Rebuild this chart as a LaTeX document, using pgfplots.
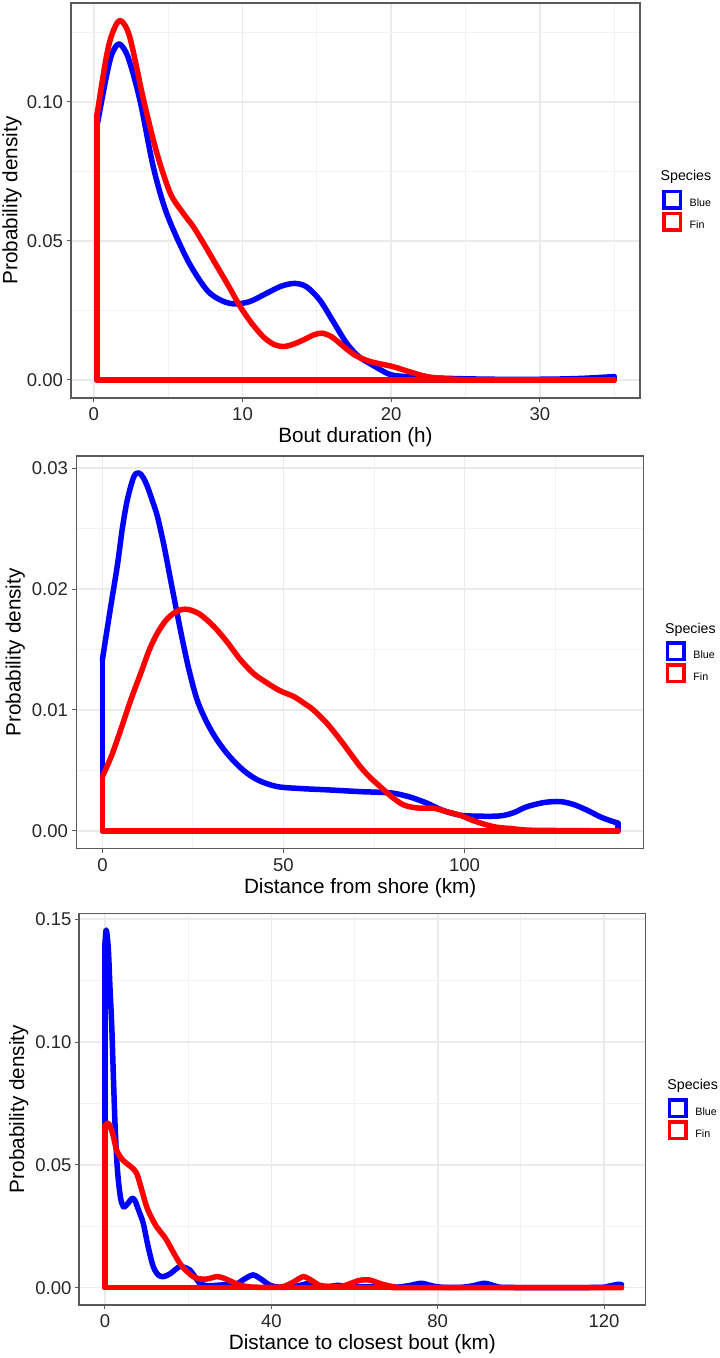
\documentclass[border=0pt]{standalone}
\usepackage{fontspec}
\setmainfont{Liberation Sans}
\usepackage{pgfplots}
\pgfplotsset{compat=1.18}
\definecolor{gridmaj}{RGB}{235,235,235}
\definecolor{gridmin}{RGB}{242,242,242}
\definecolor{frame}{RGB}{90,90,90}
\tikzset{
  dens/.style={line width=5.5pt, line join=round, line cap=round},
  spec/.style={anchor=base west, inner sep=0pt, font=\fontsize{14.2}{16}\selectfont},
}
\pgfplotsset{
  ggpanel/.style={
    scale only axis, anchor=south west, grid=both, clip mode=individual,
    scaled ticks=false,
    tick align=outside, xtick pos=left, ytick pos=left,
    major tick length=4.3pt, minor tick length=0pt,
    tick style={frame, line width=1pt},
    axis line style={frame, line width=1.1pt},
    major grid style={gridmaj, line width=1.6pt},
    minor grid style={gridmin, line width=0.9pt},
    tick label style={font=\fontsize{18.5}{20}\selectfont, text=black!85},
    label style={font=\fontsize{20.7}{24}\selectfont},
    xticklabel style={anchor=base, yshift=-18.5pt},
    xlabel style={at={(axis description cs:0.5,0)}, anchor=base, yshift=-44.7pt},
    ylabel={Probability density},
    legend cell align=left,
    legend style={at={(1,0.5)}, anchor=north west, xshift=22pt, yshift=11pt,
      draw=none, fill=none, inner sep=0pt, outer sep=0pt, row sep=2pt, column sep=7.7pt,
      font=\fontsize{10.7}{12}\selectfont, nodes={inner sep=0pt}},
    legend image code/.code={
      \path[draw=none, fill=none] (3.57pt,-2.13pt) rectangle (16.43pt,10.73pt);
      \draw[line width=3.5pt, line join=miter, line cap=butt, fill=white] (1.75pt,-3.95pt) rectangle (18.25pt,12.55pt);},
  },
}
\begin{document}
\begin{tikzpicture}
\path[use as bounding box] (0,0) rectangle (720pt,-1358pt);
% ---------------- Panel 1 ----------------
\begin{axis}[ggpanel,
  at={(71pt,-398pt)}, width=569pt, height=395pt,
  xmin=-1.54, xmax=36.74, ymin=-0.0065, ymax=0.1355,
  xtick={0,10,20,30}, xticklabels={0,10,20,30},
  minor xtick={5,15,25,35},
  ytick={0,0.05,0.10}, yticklabels={0.00,0.05,0.10},
  minor ytick={0.025,0.075,0.125},
  yticklabel style={anchor=east, xshift=-0.2pt},
  ylabel style={at={(axis description cs:-0.0942,0.5)}, anchor=base},
  xlabel={Bout duration (h)},
]
\addplot[blue, dens, smooth] coordinates {
(0.2,0.091) (0.8,0.108) (1.2,0.117) (1.7,0.1208) (2.3,0.116) (3.1,0.1005) (4.0,0.0765) (4.9,0.0598) (6.3,0.0431) (7.6,0.0323) (8.6,0.0285) (9.5,0.0273) (10.5,0.0282) (11.6,0.0311) (12.6,0.0337) (13.5,0.0347) (14.3,0.0335) (15.2,0.0287) (16.1,0.0210) (17.0,0.0132) (17.8,0.0085) (18.6,0.0058) (19.9,0.0020) (21,0.0012) (22.4,0.0008) (25,0.0004) (28,0.0002) (31,0.0003) (33,0.0006) (35,0.0012)};
\addlegendentry{Blue}
\addplot[blue, dens, forget plot] coordinates {(0.2,0.091) (0.2,0) (35,0) (35,0.0012)};
\addplot[red, dens, smooth] coordinates {
(0.2,0.095) (0.8,0.115) (1.2,0.124) (1.75,0.1292) (2.4,0.1235) (3.35,0.1005) (4.25,0.0813) (5.15,0.0670) (6.0,0.0600) (6.7,0.0550) (7.5,0.0480) (8.3,0.0407) (9.1,0.0334) (9.85,0.0263) (10.6,0.0205) (11.4,0.0155) (12.1,0.0128) (12.75,0.0120) (13.4,0.0128) (14.1,0.0144) (14.8,0.0162) (15.35,0.0168) (16.0,0.0155) (16.8,0.0120) (17.6,0.0088) (18.6,0.0066) (20.1,0.0048) (21.2,0.0030) (22.4,0.0012) (24,0.0003) (26,0) (35,0)};
\addlegendentry{Fin}
\addplot[red, dens, forget plot] coordinates {(0.2,0.095) (0.2,0) (35,0)};
\node[spec, xshift=20.5pt, yshift=19.8pt] at (rel axis cs:1,0.5) {Species};
\end{axis}
% ---------------- Panel 2 ----------------
\begin{axis}[ggpanel,
  at={(76.7pt,-848.7pt)}, width=567pt, height=392.7pt,
  xmin=-7.1, xmax=149.5, ymin=-0.00147, ymax=0.031,
  xtick={0,50,100}, xticklabels={0,50,100},
  minor xtick={25,75,125},
  ytick={0,0.01,0.02,0.03}, yticklabels={0.00,0.01,0.02,0.03},
  minor ytick={0.005,0.015,0.025},
  yticklabel style={anchor=east, xshift=-0.9pt},
  ylabel style={at={(axis description cs:-0.0988,0.5)}, anchor=base},
  xlabel={Distance from shore (km)},
]
\addplot[blue, dens, smooth] coordinates {
(0,0.01416) (2,0.0180) (4.1,0.0219) (5.5,0.0250) (6.9,0.0274) (8.7,0.0293) (10.1,0.0296) (11.3,0.0292) (12.4,0.0285) (13.8,0.0273) (15.2,0.0260) (17,0.0236) (18.8,0.0208) (20.5,0.0182) (22.1,0.0158) (24,0.0132) (26.2,0.0108) (28.8,0.0090) (31.7,0.0075) (35,0.0062) (39,0.0050) (43,0.0042) (48.2,0.00367) (55,0.0035) (62,0.0034) (71.2,0.00325) (76,0.0032) (80.4,0.00312) (85,0.0028) (89.6,0.0023) (94,0.0017) (98.8,0.0013) (104,0.00122) (109.8,0.00124) (113.5,0.0015) (117.2,0.0020) (122,0.00235) (126.4,0.00243) (130,0.0022) (133.7,0.00174) (138,0.0011) (142.4,0.00064)};
\addlegendentry{Blue}
\addplot[blue, dens, forget plot] coordinates {(0,0.01416) (0,0) (142.4,0) (142.4,0.00064)};
\addplot[red, dens, smooth] coordinates {
(0,0.0045) (2.5,0.0062) (5.05,0.00836) (7.8,0.0108) (10.6,0.01305) (13,0.0150) (15.2,0.01637) (17.5,0.0174) (19.7,0.0180) (21.8,0.0183) (23.9,0.0183) (27,0.0179) (30.8,0.0169) (34.5,0.0156) (38.1,0.01416) (41.8,0.0130) (45.5,0.01223) (49,0.0116) (52.8,0.01112) (55.5,0.0106) (58.3,0.0100) (62,0.0089) (65.7,0.00753) (68.5,0.0064) (71.2,0.00532) (74,0.0044) (76.7,0.00367) (80,0.0028) (83.2,0.00215) (87,0.0019) (91.4,0.00188) (95,0.0016) (98.8,0.0013) (102,0.0009) (106.1,0.0005) (109,0.0003) (112.6,0.0002) (116,0.0001) (120,0.00005) (142.4,0)};
\addlegendentry{Fin}
\addplot[red, dens, forget plot] coordinates {(0,0.0045) (0,0) (142.4,0)};
\node[spec, xshift=21.3pt, yshift=19pt] at (rel axis cs:1,0.5) {Species};
\end{axis}
% ---------------- Panel 3 ----------------
\begin{axis}[ggpanel,
  at={(79pt,-1305pt)}, width=566.7pt, height=391.7pt,
  xmin=-6.25, xmax=130, ymin=-0.00705, ymax=0.1524,
  xtick={0,40,80,120}, xticklabels={0,40,80,120},
  minor xtick={20,60,100},
  ytick={0,0.05,0.10,0.15}, yticklabels={0.00,0.05,0.10,0.15},
  minor ytick={0.025,0.075,0.125},
  yticklabel style={anchor=east, xshift=0.2pt},
  ylabel style={at={(axis description cs:-0.0970,0.5)}, anchor=base},
  xlabel={Distance to closest bout (km)},
]
\addplot[blue, dens, smooth] coordinates {
(0,0.140) (0.3,0.1456) (0.8,0.138) (1.2,0.122) (1.6,0.1076) (2.0,0.087) (2.4,0.067) (2.8,0.053) (3.2,0.0439) (3.8,0.036) (4.4,0.0330) (4.8,0.0330) (5.6,0.0345) (6.5,0.0364) (7.2,0.0355) (8.2,0.031) (9.2,0.0262) (10.4,0.0165) (11.6,0.0086) (12.8,0.0052) (14.0,0.0045) (15.5,0.0055) (17,0.0075) (18,0.0086) (19.2,0.0082) (20.4,0.0072) (21.6,0.0045) (22.8,0.0018) (24.5,0.0008) (27,0.0010) (29,0.0012) (31.6,0.0015) (33.5,0.0035) (35.6,0.0052) (37.5,0.0035) (39.7,0.0010) (42,0.0002) (45,0.0003) (47.5,0.0012) (49.3,0.0018) (51.5,0.0008) (54,0.0005) (56,0.0010) (58,0.0005) (62,0.0003) (66,0.0003) (70,0.0002) (73,0.0008) (76.1,0.0018) (79,0.0006) (82,0.0001) (86,0.0002) (88.5,0.0008) (91.3,0.0018) (94,0.0006) (97,0.0001) (118,0.0001) (121,0.0006) (123.4,0.0014) (124.2,0.0012)};
\addlegendentry{Blue}
\addplot[blue, dens, forget plot] coordinates {(0,0.140) (0,0) (124.2,0) (124.2,0.0012)};
\addplot[red, dens, smooth] coordinates {
(0,0.066) (0.8,0.0669) (1.8,0.063) (2.8,0.056) (4.0,0.0525) (5.2,0.0506) (6.4,0.0490) (7.6,0.0466) (8.8,0.040) (10.0,0.033) (11.2,0.0285) (12.4,0.0248) (13.6,0.0222) (14.8,0.0194) (16.4,0.0145) (18.0,0.0099) (19.6,0.0068) (21.2,0.0045) (22.8,0.0036) (24.4,0.0035) (25.6,0.0040) (26.8,0.0045) (28,0.0042) (29.1,0.0035) (30.8,0.0022) (32.5,0.0010) (35,0.0003) (40,0.0001) (43,0.0005) (45.5,0.0025) (47.7,0.0045) (49.6,0.0030) (51.6,0.0010) (54,0.0004) (57,0.0006) (59,0.0017) (61.3,0.0030) (63.7,0.0031) (66.5,0.0015) (69.7,0.0003) (73,0) (124.2,0)};
\addlegendentry{Fin}
\addplot[red, dens, forget plot] coordinates {(0,0.066) (0,0) (124.2,0)};
\node[spec, xshift=21.5pt, yshift=20pt] at (rel axis cs:1,0.5) {Species};
\end{axis}
\end{tikzpicture}
\end{document}
